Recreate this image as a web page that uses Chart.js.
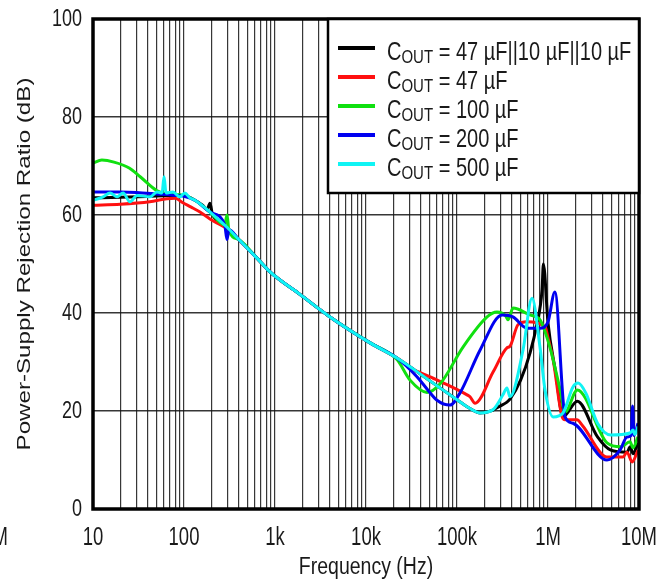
<!DOCTYPE html>
<html>
<head>
<meta charset="utf-8">
<script src="https://cdn.jsdelivr.net/npm/chart.js@4/dist/chart.umd.min.js"></script>
<style>
html,body{margin:0;padding:0;background:#fff;}
#wrap{width:660px;height:582px;position:relative;}
</style>
</head>
<body>
<div id="wrap"><canvas id="c" width="660" height="582"></canvas></div>
<script>
// ---------- data ----------
const decadeValues = [10, 100, 1000, 10000, 100000, 1000000, 10000000];
const decadeLabels = ['10', '100', '1k', '10k', '100k', '1M', '10M'];
const yTickValues = [0, 20, 40, 60, 80, 100];
const seriesNames = ['47 µF||10 µF||10 µF', '47 µF', '100 µF', '200 µF', '500 µF'];
const xTitle = 'Frequency (Hz)';
const yTitle = 'Power-Supply Rejection Ratio (dB)';

const freqBlack = [10,20,40,70,100,132,160,180,193,205,250,297,400,634,881,1880,4020,11100,21900,50000,100000,139000,179000,250000,296000,354000,382000,500000,634000,760000,860000,890000,1000000,1250000,1360000,1460000,2100000,3500000,4900000,7400000,8000000,8600000,9750000];
const psrrBlack = [63.5,63.6,63.8,64,64,63,62,61.2,62.4,60.2,58.6,57.5,55,51.2,48.4,43.8,39.2,33.9,30.8,26.2,22.3,20.5,19.6,20.2,21,21.8,22.4,26.3,31.8,38,44.7,50,38,26.3,21,18.8,22,14.7,12,11.6,12.7,11.3,13.5];

const freqRed = [10,20,42,65,80,97,120,150,193,250,297,400,634,881,1880,4020,11100,21900,30500,50000,129000,139000,158000,250000,354000,382000,468000,587000,927000,1000000,1140000,1430000,1540000,2080000,2400000,4450000,6670000,7380000,8400000,9750000];
const psrrRed = [62,62.2,62.7,63.3,63.4,62.5,61.6,60.6,59.2,58,57.2,55,51.2,48.4,43.8,39.2,33.9,30.8,28.8,27,23.3,22.9,21.6,28,32.9,33.2,37.6,38.2,37.2,35,30.4,18.8,18.2,18.2,17,10.6,10.6,11.6,9.6,12];

const freqGreen = [10,12.5,17,25,33,50,65,100,132,193,280,297,312,400,634,881,1880,4020,11100,21900,30500,46800,65000,116000,214000,275000,340000,365000,412000,634000,817000,1050000,1360000,1540000,2100000,4450000,6300000,7960000,8600000,9750000];
const psrrGreen = [70.6,71.2,70.8,69.6,67.8,65,64.3,64,63,60.6,58,60,56.8,55,51.2,48.4,43.8,39.2,33.9,30.5,26.3,23.8,25.5,33,39.2,40.2,39.5,38.6,41,39.6,38.6,33,24.3,19.8,24.3,13.5,12.7,13.7,12.5,14.7];

const freqBlue = [10,20,30,50,80,100,132,193,280,297,312,400,634,881,1880,4020,11100,21900,36300,46800,60300,83700,108000,179000,313000,412000,587000,817000,1000000,1190000,1540000,1880000,4450000,6180000,7380000,8200000,8500000,8800000,9750000];
const psrrBlue = [64.7,64.7,64.6,64.3,64,63.8,63,60.6,58,55,57,55,51.2,48.4,43.8,39.2,33.9,30.8,27,24.5,22.2,21.2,23.7,32.4,39.6,39.2,36.9,36.9,38.2,44.3,18.8,17.5,10,12,14.7,15,21,15,17.5];

const freqCyan = [10,12.9,15.4,18.4,21.4,25.5,30.4,42.3,50.5,57.4,60.4,63.4,75.6,90.2,102,116,132,193,297,400,634,881,1880,4020,11100,21900,50000,100000,139000,179000,250000,320000,354000,382000,531000,667000,817000,927000,1140000,1460000,1880000,2140000,2600000,3500000,4900000,7960000,8600000,9000000,9750000];
const psrrCyan = [63,63.7,64.5,63.7,64.5,62.7,64,63.7,64.7,64.5,67.8,64.5,64.7,63.7,64.5,63.5,63,60.6,57.5,55,51.2,48.4,43.8,39.2,33.9,30.8,26.2,22.3,20.5,19.6,20.3,23.3,24.7,22.9,32.4,43,33,24.3,18.8,19.6,24.9,25.7,23.7,17.5,15.1,15.5,16.1,15.2,16.8];

// ---------- helpers ----------
const FONT = "'Liberation Sans', Arial, Helvetica, sans-serif";
function pts(fs, vs) { return fs.map((f, i) => ({ x: f, y: vs[i] })); }
function stretchedText(ctx, text, x, y, size, sy, align, baseline) {
  ctx.save();
  ctx.translate(x, y);
  ctx.scale(1, sy);
  ctx.font = size + 'px ' + FONT;
  ctx.textAlign = align;
  ctx.textBaseline = baseline;
  ctx.fillText(text, 0, 0);
  ctx.restore();
}

const colors = ['#000000', '#ff1010', '#10e010', '#0000f0', '#10f4f4'];
const seriesData = [
  pts(freqBlack, psrrBlack),
  pts(freqRed, psrrRed),
  pts(freqGreen, psrrGreen),
  pts(freqBlue, psrrBlue),
  pts(freqCyan, psrrCyan)
];

const decoPlugin = {
  id: 'deco',
  afterDraw(chart) {
    const ctx = chart.ctx, a = chart.chartArea;
    const xs = chart.scales.x, ys = chart.scales.y;
    ctx.save();
    // frame
    ctx.strokeStyle = '#000';
    ctx.lineWidth = 3.5;
    ctx.strokeRect(a.left, a.top, a.right - a.left, a.bottom - a.top);

    // tick labels
    ctx.fillStyle = '#1a1a1a';
    yTickValues.forEach(v => stretchedText(ctx, String(v), a.left - 11, ys.getPixelForValue(v), 18, 1.35, 'right', 'middle'));
    decadeValues.forEach((v, i) => stretchedText(ctx, decadeLabels[i], xs.getPixelForValue(v), a.bottom + 29, 18.5, 1.35, 'center', 'middle'));
    // stray label from neighbour figure
    stretchedText(ctx, 'M', 8, a.bottom + 29, 18.5, 1.35, 'right', 'middle');

    // axis titles
    stretchedText(ctx, xTitle, (a.left + a.right) / 2, a.bottom + 58, 19.5, 1.25, 'center', 'middle');
    ctx.save();
    ctx.translate(25, (a.top + a.bottom) / 2);
    ctx.scale(1, 1.27);
    ctx.rotate(-Math.PI / 2);
    ctx.font = '19px ' + FONT;
    ctx.textAlign = 'center';
    ctx.textBaseline = 'middle';
    ctx.fillText(yTitle, 0, 0);
    ctx.restore();

    // legend
    const lx = 328, ly = a.top, lr = a.right, lb = 193;
    ctx.fillStyle = '#fff';
    ctx.fillRect(lx, ly, lr - lx, lb - ly);
    ctx.strokeStyle = '#000';
    ctx.lineWidth = 2.5;
    ctx.strokeRect(lx, ly, lr - lx, lb - ly);
    chart.data.datasets.forEach((ds, i) => {
      const rowY = 48 + i * 29;
      ctx.strokeStyle = ds.borderColor;
      ctx.lineWidth = 4;
      ctx.beginPath();
      ctx.moveTo(338, rowY);
      ctx.lineTo(375, rowY);
      ctx.stroke();
      ctx.fillStyle = '#1a1a1a';
      let tx = 387;
      const base = rowY + 12;
      ctx.font = '20px ' + FONT;
      stretchedText(ctx, 'C', tx, base, 20, 1.33, 'left', 'alphabetic');
      tx += ctx.measureText('C').width;
      ctx.font = '15px ' + FONT;
      stretchedText(ctx, 'OUT', tx, base + 3, 15, 1.2, 'left', 'alphabetic');
      tx += ctx.measureText('OUT').width;
      ctx.font = '20px ' + FONT;
      stretchedText(ctx, ' = ' + ds.label, tx, base, 20, 1.33, 'left', 'alphabetic');
    });
    ctx.restore();
  }
};

new Chart(document.getElementById('c'), {
  type: 'line',
  data: {
    datasets: seriesData.map((d, i) => ({
      label: seriesNames[i],
      data: d,
      borderColor: colors[i],
      backgroundColor: colors[i],
      borderWidth: 3,
      pointRadius: 0,
      fill: false,
      cubicInterpolationMode: 'monotone',
      order: 5 - i
    }))
  },
  options: {
    responsive: false,
    animation: false,
    parsing: true,
    layout: { padding: { top: 19, right: 21, left: 0, bottom: 0 } },
    plugins: { legend: { display: false }, tooltip: { enabled: false } },
    scales: {
      x: {
        type: 'logarithmic',
        min: 10,
        max: 10000000,
        afterBuildTicks(scale) {
          const t = [];
          decadeValues.forEach(d => {
            for (let m = 1; m <= 9; m++) {
              const v = d * m;
              if (v <= 10000000) t.push({ value: v });
            }
          });
          scale.ticks = t;
        },
        afterFit(scale) { scale.height = 73; },
        ticks: { display: false, autoSkip: false },
        grid: { color: 'rgba(20,20,20,0.85)', lineWidth: 1.2, drawTicks: false },
        border: { display: false },
        title: { display: false, text: xTitle }
      },
      y: {
        type: 'linear',
        min: 0,
        max: 100,
        ticks: { display: false, stepSize: 20 },
        afterFit(scale) { scale.width = 93; },
        grid: { color: 'rgba(20,20,20,0.85)', lineWidth: 1.4, drawTicks: false },
        border: { display: false },
        title: { display: false, text: yTitle }
      }
    }
  },
  plugins: [decoPlugin]
});
</script>
</body>
</html>
